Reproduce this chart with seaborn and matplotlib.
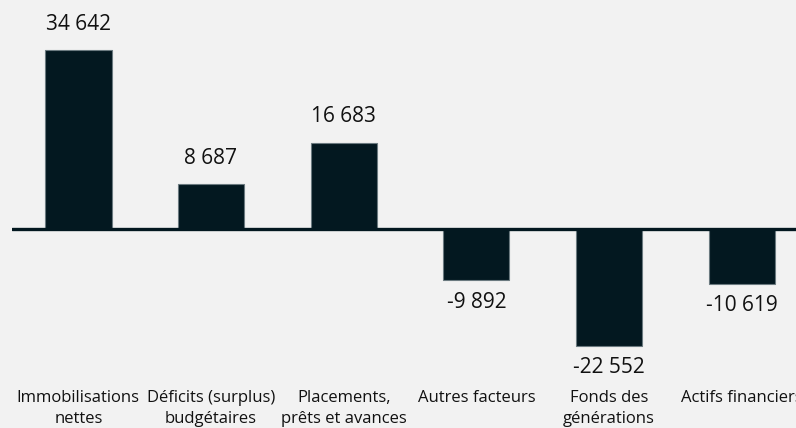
import matplotlib
matplotlib.use("Agg")
import matplotlib.pyplot as plt
import pandas as pd
import seaborn as sns

categories = ["Immobilisations\nnettes", "Déficits (surplus)\nbudgétaires", "Placements,\nprêts et avances",
              "Autres facteurs", "Fonds des\ngénérations", "Actifs financiers"]
values = [34642, 8687, 16683, -9892, -22552, -10619]
value_labels = ["34 642", "8 687", "16 683", "-9 892", "-22 552", "-10 619"]

bg = "#f2f2f2"
dark = "#031820"

sns.set_theme(style="white")
plt.rcParams["font.family"] = ["Open Sans", "DejaVu Sans"]

df = pd.DataFrame({"cat": categories, "val": values})

fig = plt.figure(figsize=(7.96, 4.28), dpi=100, facecolor=bg)
ax = fig.add_axes([12 / 796, 1 - 384 / 428, 1.0, 384 / 428])
ax.set_facecolor(bg)

sns.barplot(data=df, x="cat", y="val", color=dark, saturation=1, width=0.5,
            edgecolor="#6b7a80", linewidth=0.8, ax=ax)

ax.axhline(0, color=dark, lw=2.4, zorder=3)
ax.set_ylim(-30000, 44320)
ax.set_xlim(-0.5, 5.5)

for i, (v, lab) in enumerate(zip(values, value_labels)):
    off = 26 if v > 0 else -22
    ax.annotate(lab, (i, v), xytext=(0, off), textcoords="offset pixels",
                ha="center", va="center", fontsize=15, color="#111111")

for s in ax.spines.values():
    s.set_visible(False)
ax.set_yticks([])
ax.set_xlabel("")
ax.set_ylabel("")
ax.tick_params(axis="x", length=0, pad=4, labelsize=12, colors="#111111")
for t in ax.get_xticklabels():
    t.set_linespacing(1.45)

fig.savefig("out.png", dpi=100, facecolor=bg)
